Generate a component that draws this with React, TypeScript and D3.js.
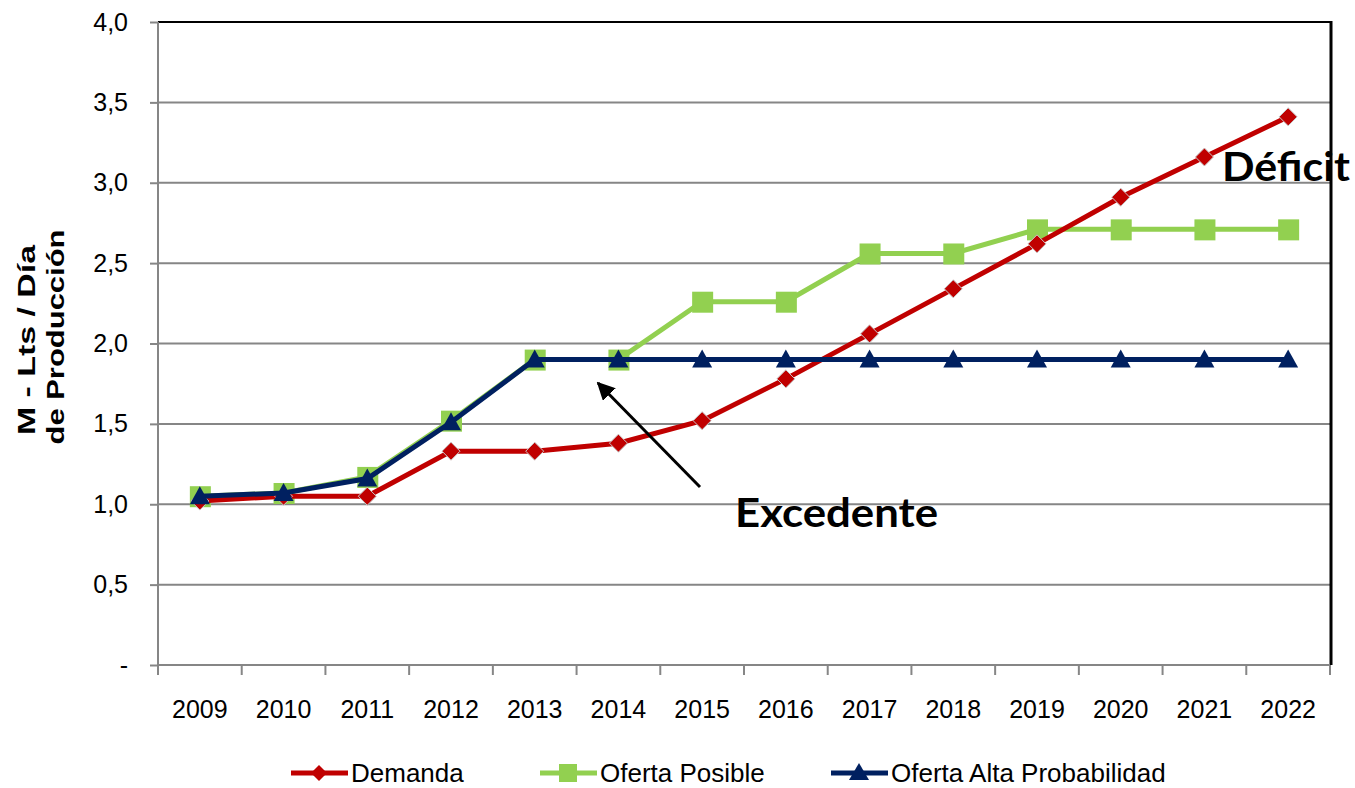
import { useRef, useEffect } from 'react';
import * as d3 from 'd3';

const years = ['2009', '2010', '2011', '2012', '2013', '2014', '2015', '2016', '2017', '2018', '2019', '2020', '2021', '2022'];
const demanda = [1.02, 1.05, 1.05, 1.33, 1.33, 1.38, 1.52, 1.78, 2.06, 2.34, 2.62, 2.91, 3.16, 3.41];
const ofertaPosible = [1.05, 1.07, 1.17, 1.52, 1.90, 1.90, 2.26, 2.26, 2.56, 2.56, 2.71, 2.71, 2.71, 2.71];
const ofertaAlta = [1.05, 1.07, 1.16, 1.51, 1.90, 1.90, 1.90, 1.90, 1.90, 1.90, 1.90, 1.90, 1.90, 1.90];
const yTicks = [0, 0.5, 1, 1.5, 2, 2.5, 3, 3.5, 4];

const RED = '#c00000';
const GREEN = '#92d050';
const NAVY = '#002060';
const GRID = '#868686';
const FONT = '"Liberation Sans", Arial, sans-serif';
const BOLD = 'Lato, "Open Sans", sans-serif';

export default function App() {
  const ref = useRef<SVGSVGElement>(null);

  useEffect(() => {
    const svg = d3.select(ref.current);
    svg.selectAll('*').remove();
    const W = 1355, H = 788;
    const m = { top: 22, right: 25, bottom: 123, left: 158 };
    const iw = W - m.left - m.right;
    const ih = H - m.top - m.bottom;

    const x = d3.scaleBand().domain(years).range([0, iw]);
    const y = d3.scaleLinear().domain([0, 4]).range([ih, 0]);
    const cx = (i: number) => x(years[i])! + x.bandwidth() / 2;

    const defs = svg.append('defs');
    defs.append('marker').attr('id', 'arr').attr('viewBox', '0 0 10 10')
      .attr('refX', 9).attr('refY', 5).attr('markerWidth', 6).attr('markerHeight', 6)
      .attr('orient', 'auto')
      .append('path').attr('d', 'M0,0 L10,5 L0,10 Z').attr('fill', '#000');

    const g = svg.append('g').attr('transform', `translate(${m.left},${m.top})`);

    // grid
    g.append('g').selectAll('line').data(yTicks.slice(1)).join('line')
      .attr('x1', 0).attr('x2', iw).attr('y1', d => y(d)).attr('y2', d => y(d))
      .attr('stroke', GRID).attr('stroke-width', 2);

    // plot border top/right
    g.append('line').attr('x1', 0).attr('x2', iw + 1).attr('y1', 0).attr('y2', 0)
      .attr('stroke', '#000').attr('stroke-width', 2);
    g.append('line').attr('x1', iw + 1).attr('x2', iw + 1).attr('y1', -1).attr('y2', ih)
      .attr('stroke', '#000').attr('stroke-width', 3);

    // y axis
    const fmt = (d: number) => d === 0 ? '-' : d3.format('.1f')(d).replace('.', ',');
    g.append('g')
      .call(d3.axisLeft(y).tickValues(yTicks).tickSize(8).tickPadding(22).tickFormat(d => fmt(+d)))
      .call(s => s.select('.domain').attr('stroke', GRID).attr('stroke-width', 2).attr('d', `M0,0V${ih}`))
      .call(s => s.selectAll('.tick line').attr('stroke', GRID).attr('stroke-width', 2))
      .call(s => s.selectAll('text').attr('fill', '#000').style('font-family', FONT).style('font-size', '25px'));

    // x axis
    const xa = g.append('g').attr('transform', `translate(0,${ih})`);
    xa.append('line').attr('x1', 0).attr('x2', iw).attr('stroke', GRID).attr('stroke-width', 2);
    xa.selectAll('line.t').data(d3.range(years.length + 1)).join('line').attr('class', 't')
      .attr('x1', i => i * x.step()).attr('x2', i => i * x.step()).attr('y1', 0).attr('y2', 10)
      .attr('stroke', GRID).attr('stroke-width', 2);
    xa.selectAll('text').data(years).join('text')
      .attr('x', d => x(d)! + x.bandwidth() / 2).attr('y', 53)
      .attr('text-anchor', 'middle').style('font-family', FONT).style('font-size', '25px').text(d => d);

    // y label
    const yl = svg.append('g').attr('transform', `translate(0,340) rotate(-90)`)
      .style('font-family', FONT).style('font-size', '24px').style('font-weight', 'bold');
    yl.append('text').attr('x', 0).attr('y', 35).attr('text-anchor', 'middle')
      .attr('textLength', 190).attr('lengthAdjust', 'spacingAndGlyphs').text('M - Lts / Día');
    yl.append('text').attr('x', 3).attr('y', 64).attr('text-anchor', 'middle')
      .attr('textLength', 215).attr('lengthAdjust', 'spacingAndGlyphs').text('de Producción');

    const line = d3.line<number>().x((_, i) => cx(i)).y(d => y(d));

    // Oferta Posible
    g.append('path').datum(ofertaPosible).attr('fill', 'none').attr('stroke', GREEN).attr('stroke-width', 5).attr('d', line);
    g.append('g').selectAll('rect').data(ofertaPosible).join('rect')
      .attr('x', (_, i) => cx(i) - 10).attr('y', d => y(d) - 10).attr('width', 21).attr('height', 21).attr('fill', GREEN);

    // Demanda
    g.append('path').datum(demanda).attr('fill', 'none').attr('stroke', RED).attr('stroke-width', 5).attr('d', line);
    g.append('g').selectAll('path').data(demanda).join('path')
      .attr('d', 'M0,-9 L9,0 L0,9 L-9,0 Z').attr('transform', (d, i) => `translate(${cx(i)},${y(d)})`)
      .attr('fill', RED).attr('stroke', '#c8c8c8').attr('stroke-width', 1);

    // Oferta Alta
    g.append('path').datum(ofertaAlta).attr('fill', 'none').attr('stroke', NAVY).attr('stroke-width', 5).attr('d', line);
    g.append('g').selectAll('path').data(ofertaAlta).join('path')
      .attr('d', 'M0,-10 L10,8 L-10,8 Z').attr('transform', (d, i) => `translate(${cx(i)},${y(d)})`)
      .attr('fill', NAVY);

    // annotations
    svg.append('line').attr('x1', 700).attr('y1', 487).attr('x2', 598).attr('y2', 383)
      .attr('stroke', '#000').attr('stroke-width', 3).attr('marker-end', 'url(#arr)');
    svg.append('text').attr('x', 735).attr('y', 527).style('font-family', BOLD).style('font-weight', 'bold')
      .style('font-size', '41px').attr('textLength', 203).attr('lengthAdjust', 'spacingAndGlyphs').text('Excedente');
    svg.append('text').attr('x', 1222).attr('y', 181).style('font-family', BOLD).style('font-weight', 'bold')
      .style('font-size', '41px').attr('textLength', 128).attr('lengthAdjust', 'spacingAndGlyphs').text('Déficit');

    // legend
    const items = [
      { label: 'Demanda', color: RED, x: 291, kind: 'd' },
      { label: 'Oferta Posible', color: GREEN, x: 540, kind: 's' },
      { label: 'Oferta Alta Probabilidad', color: NAVY, x: 831, kind: 't' },
    ];
    const lg = svg.append('g').attr('transform', 'translate(0,773)');
    items.forEach(it => {
      lg.append('line').attr('x1', it.x).attr('x2', it.x + 57).attr('stroke', it.color).attr('stroke-width', 5);
      const mx = it.x + 28;
      if (it.kind === 'd') lg.append('path').attr('d', 'M0,-8 L8,0 L0,8 L-8,0 Z').attr('transform', `translate(${mx},0)`).attr('fill', it.color);
      if (it.kind === 's') lg.append('rect').attr('x', mx - 9).attr('y', -9).attr('width', 18).attr('height', 18).attr('fill', it.color);
      if (it.kind === 't') lg.append('path').attr('d', 'M0,-10 L10,7 L-10,7 Z').attr('transform', `translate(${mx},0)`).attr('fill', it.color);
      lg.append('text').attr('x', it.x + 60).attr('y', 9).style('font-family', FONT).style('font-size', '26px').text(it.label);
    });
  }, []);

  return <svg ref={ref} width={1355} height={788} style={{ display: 'block', position: 'absolute', left: 0, top: 0, background: '#fff' }} />;
}
